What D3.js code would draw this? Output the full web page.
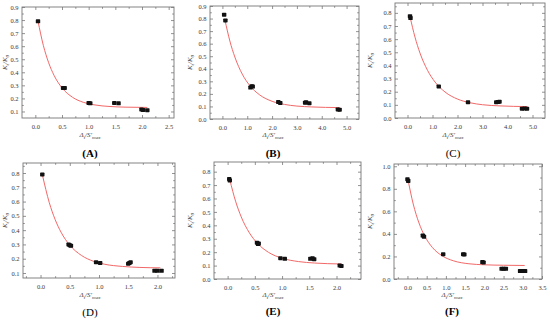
<!DOCTYPE html>
<html><head><meta charset="utf-8">
<script src="https://cdn.jsdelivr.net/npm/d3@7"></script>
<style>body{margin:0;background:#fff}svg{display:block}</style>
</head><body>
<svg id="c" width="550" height="322"></svg>
<script>
// ---- data ----
const labelsP = ["(A)","(B)","(C)","(D)","(E)","(F)"];

const ptsAx = [0.05, 0.52, 0.55, 1.0, 1.03, 1.48, 1.56, 1.99, 2.02, 2.1];
const ptsAy = [0.79, 0.28, 0.28, 0.165, 0.162, 0.165, 0.162, 0.115, 0.112, 0.11];
const fitAx = [0.05, 0.15, 0.25, 0.35, 0.5, 0.7, 0.9, 1.1, 1.4, 1.7, 2.1];
const fitAy = [0.792, 0.606, 0.473, 0.377, 0.281, 0.208, 0.170, 0.151, 0.138, 0.133, 0.131];

const ptsBx = [0.07, 0.12, 1.13, 1.18, 1.22, 2.25, 2.33, 3.33, 3.37, 3.5, 4.65, 4.72];
const ptsBy = [0.83, 0.785, 0.25, 0.26, 0.258, 0.135, 0.128, 0.13, 0.133, 0.125, 0.076, 0.074];
const fitBx = [0.1, 0.3, 0.5, 0.8, 1.1, 1.5, 2.0, 2.5, 3.0, 3.6, 4.7];
const fitBy = [0.79, 0.621, 0.494, 0.357, 0.267, 0.192, 0.141, 0.116, 0.103, 0.096, 0.091];

const ptsCx = [0.1, 0.12, 1.25, 2.42, 3.55, 3.62, 3.68, 4.58, 4.68, 4.78];
const ptsCy = [0.775, 0.76, 0.24, 0.12, 0.12, 0.122, 0.124, 0.07, 0.072, 0.07];
const fitCx = [0.1, 0.3, 0.5, 0.8, 1.1, 1.5, 2.0, 2.5, 3.0, 3.7, 4.8];
const fitCy = [0.771, 0.615, 0.494, 0.363, 0.274, 0.198, 0.144, 0.116, 0.101, 0.092, 0.087];

const ptsDx = [0.03, 0.48, 0.5, 0.52, 0.95, 1.02, 1.5, 1.52, 1.54, 1.95, 2.0, 2.07];
const ptsDy = [0.79, 0.3, 0.295, 0.29, 0.175, 0.17, 0.165, 0.17, 0.175, 0.115, 0.115, 0.115];
const fitDx = [0.03, 0.15, 0.25, 0.35, 0.5, 0.7, 0.9, 1.1, 1.4, 1.7, 2.05];
const fitDy = [0.790, 0.592, 0.474, 0.386, 0.295, 0.223, 0.183, 0.161, 0.146, 0.139, 0.136];

const ptsEx = [0.03, 0.04, 0.54, 0.56, 0.57, 0.97, 1.05, 1.52, 1.56, 1.59, 2.06, 2.09];
const ptsEy = [0.745, 0.735, 0.27, 0.26, 0.265, 0.155, 0.15, 0.15, 0.155, 0.148, 0.1, 0.097];
const fitEx = [0.04, 0.15, 0.25, 0.4, 0.55, 0.75, 1.0, 1.3, 1.6, 2.08];
const fitEy = [0.74, 0.575, 0.463, 0.344, 0.265, 0.199, 0.155, 0.130, 0.119, 0.112];

const ptsFx = [0.0, 0.02, 0.4, 0.43, 0.93, 1.45, 1.48, 1.95, 1.98, 2.45, 2.5, 2.56, 2.93, 3.0, 3.06];
const ptsFy = [0.885, 0.87, 0.385, 0.375, 0.22, 0.22, 0.218, 0.15, 0.147, 0.09, 0.09, 0.09, 0.07, 0.07, 0.07];
const fitFx = [0.02, 0.15, 0.3, 0.45, 0.65, 0.9, 1.2, 1.6, 2.0, 2.5, 3.05];
const fitFy = [0.870, 0.665, 0.497, 0.380, 0.279, 0.206, 0.161, 0.135, 0.126, 0.122, 0.120];

const xTicksA = ["0.0","0.5","1.0","1.5","2.0","2.5"];
const yTicksA = ["0.1","0.2","0.3","0.4","0.5","0.6","0.7","0.8","0.9"];
const xTicksB = ["0.0","1.0","2.0","3.0","4.0","5.0"];
const yTicksB = ["0.0","0.1","0.2","0.3","0.4","0.5","0.6","0.7","0.8","0.9"];
const xTicksC = ["0.0","1.0","2.0","3.0","4.0","5.0"];
const yTicksC = ["0.0","0.1","0.2","0.3","0.4","0.5","0.6","0.7","0.8"];
const xTicksD = ["0.0","0.5","1.0","1.5","2.0"];
const yTicksD = ["0.1","0.2","0.3","0.4","0.5","0.6","0.7","0.8"];
const xTicksE = ["0.0","0.5","1.0","1.5","2.0"];
const yTicksE = ["0.0","0.1","0.2","0.3","0.4","0.5","0.6","0.7","0.8"];
const xTicksF = ["0.0","0.5","1.0","1.5","2.0","2.5","3.0","3.5"];
const yTicksF = ["0.0","0.2","0.4","0.6","0.8","1.0"];

// ---- layout ----
const panels = [
  {lab:0, px:ptsAx, py:ptsAy, fx:fitAx, fy:fitAy, xt:xTicksA, yt:yTicksA, box:[22,7,174,118], xd:[-0.25,2.6], yd:[0.05,0.9], cx:90, ty:137, ly:157, yl:7},
  {lab:1, px:ptsBx, py:ptsBy, fx:fitBx, fy:fitBy, xt:xTicksB, yt:yTicksB, box:[210,6,359,119], xd:[-0.5,5.5], yd:[0,0.9], cx:273, ty:137, ly:157, yl:192},
  {lab:2, px:ptsCx, py:ptsCy, fx:fitCx, fy:fitCy, xt:xTicksC, yt:yTicksC, box:[395,3,545,118], xd:[-0.5,5.5], yd:[0,0.875], cx:453, ty:137, ly:157, yl:372},
  {lab:3, px:ptsDx, py:ptsDy, fx:fitDx, fy:fitDy, xt:xTicksD, yt:yTicksD, box:[23,163,175,278], xd:[-0.3,2.3], yd:[0.065,0.87], cx:90, ty:297, ly:316, yl:7},
  {lab:4, px:ptsEx, py:ptsEy, fx:fitEx, fy:fitEy, xt:xTicksE, yt:yTicksE, box:[214,162,361,279], xd:[-0.25,2.45], yd:[0,0.872], cx:273, ty:297, ly:315, yl:192},
  {lab:5, px:ptsFx, py:ptsFy, fx:fitFx, fy:fitFy, xt:xTicksF, yt:yTicksF, box:[394,164,542,279], xd:[-0.35,3.5], yd:[0,1.02], cx:452, ty:297, ly:315, yl:372}
];
const boldLab = [true,true,false,false,true,true];

const svg = d3.select("#c");
svg.append("rect").attr("width",550).attr("height",322).attr("fill","#fff");
const frameCol = "#777", textCol = "#3a3a3a";
const serif = "'Liberation Serif','DejaVu Serif',serif";

function minorVals(vals){
  const out=[];
  for(let i=0;i<vals.length-1;i++) out.push((vals[i]+vals[i+1])/2);
  const st = vals[1]-vals[0];
  out.push(vals[0]-st/2); out.push(vals[vals.length-1]+st/2);
  return out;
}

panels.forEach(p=>{
  const [x0,y0,x1,y1]=p.box;
  const x=d3.scaleLinear().domain(p.xd).range([x0,x1]);
  const y=d3.scaleLinear().domain(p.yd).range([y1,y0]);
  const g=svg.append("g");
  const xv=p.xt.map(Number), yv=p.yt.map(Number);
  const xm=minorVals(xv).filter(v=>v>p.xd[0]&&v<p.xd[1]);
  const ym=minorVals(yv).filter(v=>v>p.yd[0]&&v<p.yd[1]);

  const mk=(axisFn, scale, vals, size, tx, ty, labels)=>{
    const a=g.append("g").attr("transform",`translate(${tx},${ty})`)
      .call(axisFn(scale).tickValues(vals).tickSize(size).tickSizeOuter(0).tickPadding(labels?3:0)
        .tickFormat(labels? ((d,i)=>labels[i]) : ()=>""));
    a.select(".domain").remove();
    a.selectAll("line").attr("stroke",frameCol).attr("stroke-width",0.8);
    a.selectAll("text").attr("fill",textCol).style("font-family",serif).style("font-size","6.5px");
    return a;
  };
  const b=mk(d3.axisBottom,x,xv,-3,0,y1,p.xt);
  b.selectAll("text").attr("y",6);
  mk(d3.axisBottom,x,xm,-1.8,0,y1,null);
  mk(d3.axisTop,x,xv,-3,0,y0,null);
  mk(d3.axisTop,x,xm,-1.8,0,y0,null);
  const l=mk(d3.axisLeft,y,yv,-3,x0,0,p.yt);
  l.selectAll("text").attr("x",-3.5);
  mk(d3.axisLeft,y,ym,-1.8,x0,0,null);
  mk(d3.axisRight,y,yv,-3,x1,0,null);
  mk(d3.axisRight,y,ym,-1.8,x1,0,null);

  g.append("rect").attr("x",x0).attr("y",y0).attr("width",x1-x0).attr("height",y1-y0)
    .attr("fill","none").attr("stroke",frameCol).attr("stroke-width",0.9);

  const line=d3.line().x((d,i)=>x(p.fx[i])).y((d,i)=>y(p.fy[i])).curve(d3.curveMonotoneX);
  g.append("path").attr("d",line(p.fx)).attr("fill","none").attr("stroke","#f26868").attr("stroke-width",1);

  g.selectAll("rect.pt").data(p.px).enter().append("rect").attr("class","pt")
    .attr("x",(d,i)=>x(d)-2.2).attr("y",(d,i)=>y(p.py[i])-2).attr("width",4.4).attr("height",4)
    .attr("rx",0.7).attr("fill","#111");

  const yt=g.append("text").attr("transform",`translate(${p.yl},${(y0+y1)/2}) rotate(-90)`)
    .attr("text-anchor","middle").attr("fill",textCol).style("font-family",serif)
    .style("font-size","7px").style("font-style","italic");
  yt.append("tspan").text("K");
  yt.append("tspan").text("t").attr("dy",1.5).style("font-size","5px");
  yt.append("tspan").text("/K").attr("dy",-1.5);
  yt.append("tspan").text("0").attr("dy",1.5).style("font-size","5px");

  const xt=g.append("text").attr("x",p.cx).attr("y",p.ty).attr("text-anchor","middle")
    .attr("fill",textCol).style("font-family",serif).style("font-size","7px").style("font-style","italic");
  xt.append("tspan").text("Δ");
  xt.append("tspan").text("t").attr("dy",1.5).style("font-size","5px");
  xt.append("tspan").text("/S′").attr("dy",-1.5);
  xt.append("tspan").text("max").attr("dy",1.5).style("font-size","5px");

  g.append("text").attr("x",p.cx).attr("y",p.ly).attr("text-anchor","middle")
    .attr("fill","#000").style("font-family",serif).style("font-size","11px")
    .style("font-weight",boldLab[p.lab]?"bold":"normal").text(labelsP[p.lab]);
});
</script>
</body></html>
